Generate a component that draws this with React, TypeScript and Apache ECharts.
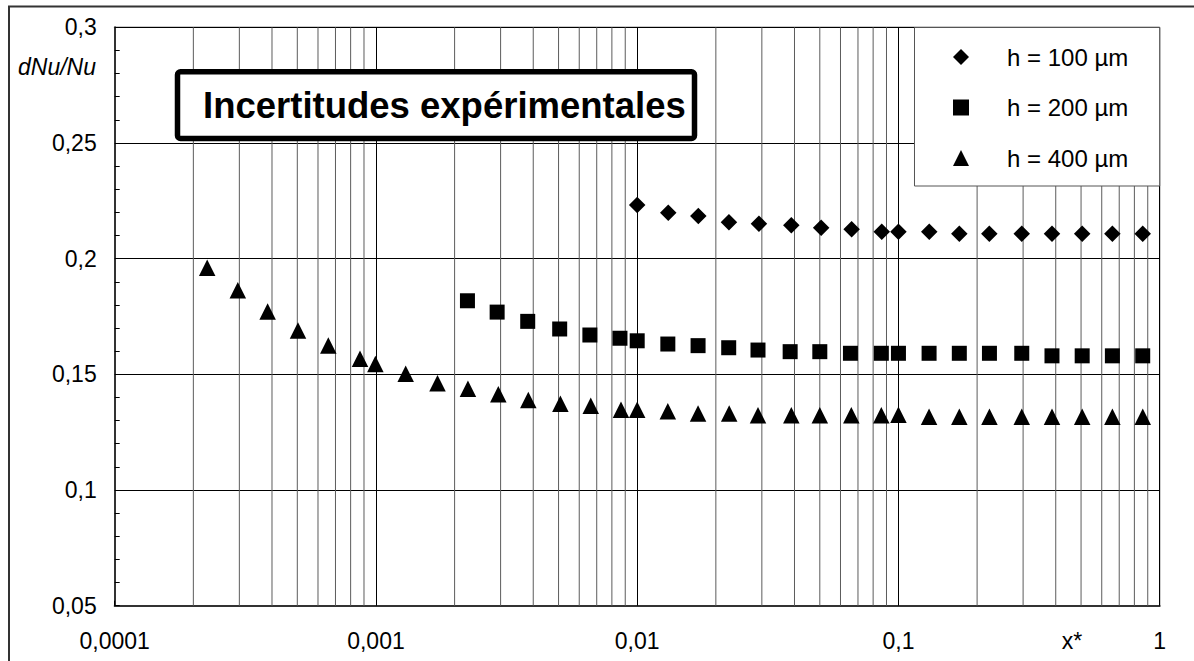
import React, { useEffect, useRef } from "react";
import * as echarts from "echarts";

const FONT = "'Liberation Sans', Arial, sans-serif";

const seriesNames = ["h = 100 µm", "h = 200 µm", "h = 400 µm"];

const x100 = [0.01, 0.01315, 0.01714, 0.02245, 0.02924, 0.0389, 0.0506, 0.0662, 0.0863, 0.1, 0.1312, 0.171, 0.2228, 0.2965, 0.387, 0.505, 0.659, 0.861];
const y100 = [0.2232, 0.2198, 0.2184, 0.2157, 0.2151, 0.2144, 0.2134, 0.2127, 0.2116, 0.2116, 0.2116, 0.2108, 0.2108, 0.2108, 0.2108, 0.2108, 0.2108, 0.2108];

const x200 = [0.00224, 0.00291, 0.00381, 0.00505, 0.00659, 0.00859, 0.01, 0.0131, 0.0171, 0.0224, 0.029, 0.0385, 0.05, 0.0655, 0.086, 0.1, 0.131, 0.171, 0.223, 0.2965, 0.387, 0.505, 0.659, 0.861];
const y200 = [0.1818, 0.1769, 0.1729, 0.1696, 0.167, 0.1656, 0.1645, 0.1631, 0.1624, 0.1615, 0.1605, 0.1598, 0.1598, 0.1591, 0.1591, 0.1591, 0.1591, 0.1591, 0.1591, 0.1591, 0.158, 0.158, 0.158, 0.158];

const x400 = [0.000226, 0.000296, 0.000385, 0.000503, 0.000657, 0.000869, 0.000995, 0.0013, 0.00172, 0.00225, 0.00294, 0.00383, 0.00508, 0.00664, 0.00867, 0.01, 0.0131, 0.0171, 0.0225, 0.029, 0.0389, 0.05, 0.066, 0.086, 0.1, 0.131, 0.171, 0.223, 0.2965, 0.387, 0.505, 0.659, 0.861];
const y400 = [0.1961, 0.1863, 0.1772, 0.169, 0.1625, 0.1567, 0.1545, 0.1503, 0.1462, 0.1438, 0.1414, 0.1389, 0.1373, 0.1364, 0.1347, 0.1347, 0.134, 0.1331, 0.1331, 0.1323, 0.1323, 0.1323, 0.1323, 0.1323, 0.1325, 0.1317, 0.1317, 0.1317, 0.1317, 0.1317, 0.1317, 0.1317, 0.1317];

const xTickLabels = ["0,0001", "0,001", "0,01", "0,1", "1"];
const decades = [0.0001, 0.001, 0.01, 0.1];
const minorMultipliers = [2, 3, 4, 5, 6, 7, 8, 9];
const Y_MIN = 0.05;
const Y_MAX = 0.3;

const titleText = "Incertitudes expérimentales";
const yAxisTitle = "dNu/Nu";
const xAxisTitle = "x*";

const pairs = (xs: number[], ys: number[]) => xs.map((x, i) => [x, ys[i]]);

export default function App() {
  const ref = useRef<HTMLDivElement>(null);
  useEffect(() => {
    if (!ref.current) return;
    const chart = echarts.init(ref.current, null, { renderer: "svg" });
    const minorXs: number[] = [];
    decades.forEach((d) => minorMultipliers.forEach((m) => minorXs.push(+(d * m).toPrecision(6))));

    const option: any = {
      animation: false,
      backgroundColor: "#fff",
      grid: {
        left: 114.7,
        top: 27.3,
        right: 34.3,
        bottom: 55.3,
        show: true,
        borderColor: "#000",
        borderWidth: 1,
        backgroundColor: "#fff",
      },
      xAxis: {
        type: "log",
        logBase: 10,
        min: 0.0001,
        max: 1,
        axisLine: { show: true, lineStyle: { color: "#333", width: 2 } },
        axisTick: { show: true, inside: true, length: 5, lineStyle: { color: "#000" } },
        splitLine: { show: true, lineStyle: { color: "#000", width: 1 } },
        axisLabel: {
          margin: 24,
          fontFamily: FONT,
          fontSize: 23,
          color: "#000",
          formatter: (v: number) => xTickLabels[Math.round(Math.log10(v)) + 4] ?? "",
        },
      },
      yAxis: {
        type: "value",
        min: Y_MIN,
        max: Y_MAX,
        interval: 0.05,
        axisLine: { show: true, lineStyle: { color: "#333", width: 2 } },
        axisTick: { show: true, inside: true, length: 5, lineStyle: { color: "#000" } },
        minorTick: { show: true, splitNumber: 5, length: 5, lineStyle: { color: "#000" } },
        splitLine: { show: true, lineStyle: { color: "#000", width: 1 } },
        axisLabel: {
          margin: 18,
          fontFamily: FONT,
          fontSize: 23,
          color: "#000",
          formatter: (v: number) => String(Math.round(v * 100) / 100).replace(".", ","),
        },
      },
      legend: {
        data: seriesNames,
        orient: "vertical",
        left: 953,
        top: 45,
        padding: 0,
        itemWidth: 16,
        itemHeight: 16,
        itemGap: 26.5,
        selectedMode: false,
        z: 20,
        textStyle: { fontFamily: FONT, fontSize: 24, color: "#000", padding: [0, 0, 0, 33] },
      },
      series: [
        {
          type: "custom",
          name: "grid-minor",
          silent: true,
          z: 1,
          encode: { x: 0, y: 1 },
          data: minorXs.map((x) => [x, Y_MIN]),
          renderItem: (params: any, api: any) => {
            const x = api.value(0);
            const p1 = api.coord([x, Y_MAX]);
            const p2 = api.coord([x, Y_MIN]);
            return {
              type: "line",
              shape: { x1: p1[0], y1: p1[1], x2: p2[0], y2: p2[1] },
              style: { stroke: "#5c5c5c", lineWidth: 1 },
            };
          },
        },
        {
          type: "scatter",
          name: seriesNames[0],
          symbol: "diamond",
          symbolSize: 16.5,
          z: 3,
          itemStyle: { color: "#000", opacity: 1 },
          data: pairs(x100, y100),
        },
        {
          type: "scatter",
          name: seriesNames[1],
          symbol: "rect",
          symbolSize: 15,
          z: 3,
          itemStyle: { color: "#000", opacity: 1 },
          data: pairs(x200, y200),
        },
        {
          type: "scatter",
          name: seriesNames[2],
          symbol: "triangle",
          symbolSize: 16.5,
          z: 3,
          itemStyle: { color: "#000", opacity: 1 },
          data: pairs(x400, y400),
        },
      ],
      graphic: [
        {
          type: "rect",
          z: 0,
          silent: true,
          shape: { x: 9, y: 6.5, width: 1300, height: 800 },
          style: { fill: "none", stroke: "#333", lineWidth: 2 },
        },
        {
          type: "rect",
          z: 10,
          silent: true,
          shape: { x: 914.5, y: 27.5, width: 245.2, height: 158.5 },
          style: { fill: "#fff", stroke: "#555", lineWidth: 1 },
        },
        {
          type: "rect",
          z: 10,
          silent: true,
          shape: { x: 177.5, y: 71.8, width: 517, height: 66.7, r: 3 },
          style: { fill: "#fff", stroke: "#000", lineWidth: 5.5 },
        },
        {
          type: "text",
          z: 11,
          silent: true,
          x: 203,
          y: 105,
          style: {
            text: titleText,
            fontFamily: FONT,
            fontWeight: "bold",
            fontSize: 36.5,
            fill: "#000",
            textAlign: "left",
            textVerticalAlign: "middle",
          },
        },
        {
          type: "text",
          z: 11,
          silent: true,
          x: 96,
          y: 67,
          style: {
            text: yAxisTitle,
            fontFamily: FONT,
            fontStyle: "italic",
            fontSize: 23,
            fill: "#000",
            textAlign: "right",
            textVerticalAlign: "middle",
          },
        },
        {
          type: "text",
          z: 11,
          silent: true,
          x: 1072,
          y: 641,
          style: {
            text: xAxisTitle,
            fontFamily: FONT,
            fontSize: 23,
            fill: "#000",
            textAlign: "center",
            textVerticalAlign: "middle",
          },
        },
      ],
    };
    chart.setOption(option);
    return () => chart.dispose();
  }, []);
  return (
    <div
      ref={ref}
      style={{ position: "absolute", left: 0, top: 0, width: 1194, height: 661, background: "#fff" }}
    />
  );
}
